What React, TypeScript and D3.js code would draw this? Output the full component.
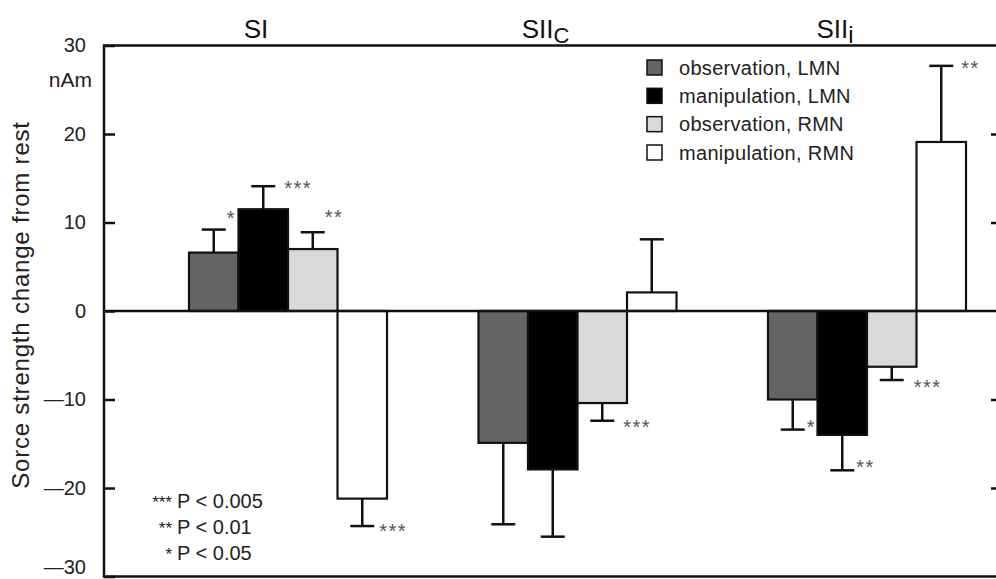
import React, { useEffect, useRef } from "react";
import * as d3 from "d3";

const groups = ["SI", "SIIc", "SIIi"];
const conditions = ["observation, LMN", "manipulation, LMN", "observation, RMN", "manipulation, RMN"];
const colors = ["#646464", "#000000", "#d9d9d9", "#ffffff"];

// mean change from rest (nAm) per region
const meanSI = [6.6, 11.5, 7.0, -21.2];
const meanSIIc = [-14.9, -17.9, -10.4, 2.1];
const meanSIIi = [-10.0, -14.0, -6.3, 19.1];

// error bar length (one side)
const errSI = [2.6, 2.6, 1.9, 3.1];
const errSIIc = [9.2, 7.6, 2.0, 6.0];
const errSIIi = [3.4, 4.0, 1.5, 8.6];

const sigSI = ["*", "***", "**", "***"];
const sigSIIc = ["", "", "***", ""];
const sigSIIi = ["*", "**", "***", "**"];

const yTicks = [30, 20, 10, 0, -10, -20, -30];
const sideTicks = [20, 10, -10, -20];
const pStars = ["***", "**", "*"];
const pText = ["P < 0.005", "P < 0.01", "P < 0.05"];

const W = 996;
const H = 579;
const FONT = "'Liberation Sans', Arial, Helvetica, sans-serif";

// small nudges for the star labels [dx, dy]
const starNudge = [
  [[-4, -16], [4, -3], [-5, -20], [0, 0]],
  [[0, 0], [0, 0], [4, 2], [0, 0]],
  [[-3, -7], [-3, -8], [5, 2], [3, -2]],
];

export default function App() {
  const ref = useRef<SVGSVGElement | null>(null);

  useEffect(() => {
    const node = ref.current;
    if (!node) return;
    const svg = d3.select(node);
    svg.selectAll("*").remove();

    const left = 104, right = 1001;
    const y = d3.scaleLinear().domain([-30, 30]).range([576.5, 45.5]);

    const gx = d3.scaleBand<string>().domain(groups).range([189, 966]).paddingInner(0.316);
    const inner = d3.scaleBand<string>().domain(conditions).range([0, gx.bandwidth()]);

    const means = [meanSI, meanSIIc, meanSIIi];
    const errs = [errSI, errSIIc, errSIIi];
    const sigs = [sigSI, sigSIIc, sigSIIi];

    // y axis on the left, ticks pointing inward
    const yAxis = d3.axisLeft(y)
      .tickValues(yTicks)
      .tickSizeInner(-11)
      .tickSizeOuter(0)
      .tickPadding(18)
      .tickFormat((d) => {
        const v = +d;
        return v < 0 ? "\u2014" + Math.abs(v) : String(v);
      });
    const ya = svg.append("g").attr("transform", `translate(${left},0)`).call(yAxis);
    ya.select(".domain").remove();
    ya.selectAll("line").attr("stroke", "#111").attr("stroke-width", 2.5);
    ya.selectAll("text").attr("font-family", FONT).attr("font-size", 20).attr("fill", "#222");
    // bottom label sits on the page edge, lift it a little
    ya.selectAll<SVGTextElement, number>("text").filter((d) => d === -30).attr("dy", "-0.15em");

    const yr = d3.axisRight(y).tickValues(sideTicks).tickSizeInner(-10).tickSizeOuter(0).tickFormat(() => "");
    const yra = svg.append("g").attr("transform", `translate(${right},0)`).call(yr);
    yra.select(".domain").remove();
    yra.selectAll("line").attr("stroke", "#111").attr("stroke-width", 2.5);

    svg.append("text")
      .attr("x", 92).attr("y", 87)
      .attr("text-anchor", "end")
      .attr("font-family", FONT).attr("font-size", 21).attr("fill", "#222")
      .text("nAm");

    svg.append("text")
      .attr("transform", "translate(29,305) rotate(-90)")
      .attr("text-anchor", "middle")
      .attr("font-family", FONT).attr("font-size", 24).attr("letter-spacing", 0.8).attr("fill", "#222")
      .text("Sorce strength change from rest");

    // bars
    groups.forEach((g, gi) => {
      const gg = svg.append("g").attr("transform", `translate(${gx(g)},0)`);
      conditions.forEach((c, ci) => {
        const v = means[gi][ci];
        const e = errs[gi][ci];
        const x0 = inner(c) as number;
        const bw = inner.bandwidth();
        gg.append("rect")
          .attr("x", x0).attr("width", bw)
          .attr("y", y(Math.max(0, v)))
          .attr("height", Math.abs(y(v) - y(0)))
          .attr("fill", colors[ci]).attr("stroke", "#111").attr("stroke-width", 2.2);
        const cx = x0 + bw / 2;
        const end = v >= 0 ? v + e : v - e;
        gg.append("line")
          .attr("x1", cx).attr("x2", cx).attr("y1", y(v)).attr("y2", y(end))
          .attr("stroke", "#111").attr("stroke-width", 2.5);
        gg.append("line")
          .attr("x1", cx - 12).attr("x2", cx + 12).attr("y1", y(end)).attr("y2", y(end))
          .attr("stroke", "#111").attr("stroke-width", 2.5);
        const s = sigs[gi][ci];
        if (s) {
          const [dx, dy] = starNudge[gi][ci];
          gg.append("text")
            .attr("x", cx + 12 + 5 + dx)
            .attr("y", y(end) + dy + 11.5)
            .attr("font-family", FONT).attr("font-size", 20).attr("letter-spacing", 1.5)
            .attr("fill", "#555")
            .text(s);
        }
      });
    });

    // zero line
    svg.append("line")
      .attr("x1", left).attr("x2", right).attr("y1", y(0)).attr("y2", y(0))
      .attr("stroke", "#111").attr("stroke-width", 2.5);

    // frame
    svg.append("rect")
      .attr("x", left).attr("y", y(30))
      .attr("width", right - left).attr("height", y(-30) - y(30))
      .attr("fill", "none").attr("stroke", "#111").attr("stroke-width", 2.5);

    // region titles
    const titleSub = ["", "C", "i"];
    groups.forEach((g, gi) => {
      const t = svg.append("text")
        .attr("x", (gx(g) as number) + gx.bandwidth() / 2 - 32)
        .attr("y", 38)
        .attr("text-anchor", "middle")
        .attr("font-family", FONT).attr("font-size", 26).attr("fill", "#111");
      t.append("tspan").text(gi === 0 ? "SI" : "SII");
      if (titleSub[gi]) {
        t.append("tspan").attr("dy", 5).attr("font-size", titleSub[gi] === "C" ? 22 : 24).text(titleSub[gi]);
      }
    });

    // legend
    const ly = d3.scalePoint<string>().domain(conditions).range([67.5, 152.5]);
    const lg = svg.append("g");
    conditions.forEach((c, ci) => {
      const cy = ly(c) as number;
      lg.append("rect")
        .attr("x", 647).attr("y", cy - 7.5).attr("width", 15).attr("height", 15)
        .attr("fill", colors[ci]).attr("stroke", "#111").attr("stroke-width", 1.5);
      lg.append("text")
        .attr("x", 679).attr("y", cy + 7)
        .attr("font-family", FONT).attr("font-size", 20).attr("letter-spacing", 0.3).attr("fill", "#222")
        .text(c);
    });

    // significance key
    const py = d3.scalePoint<string>().domain(pText).range([508, 560]);
    pText.forEach((p, i) => {
      const yy = py(p) as number;
      svg.append("text")
        .attr("x", 172).attr("y", yy)
        .attr("text-anchor", "end")
        .attr("font-family", FONT).attr("font-size", 17).attr("fill", "#222")
        .text(pStars[i]);
      svg.append("text")
        .attr("x", 177).attr("y", yy)
        .attr("font-family", FONT).attr("font-size", 20).attr("fill", "#222")
        .text(p);
    });
  }, []);

  return (
    <svg
      ref={ref}
      width={W}
      height={H}
      style={{ position: "absolute", left: 0, top: 0, background: "#fff" }}
    />
  );
}
